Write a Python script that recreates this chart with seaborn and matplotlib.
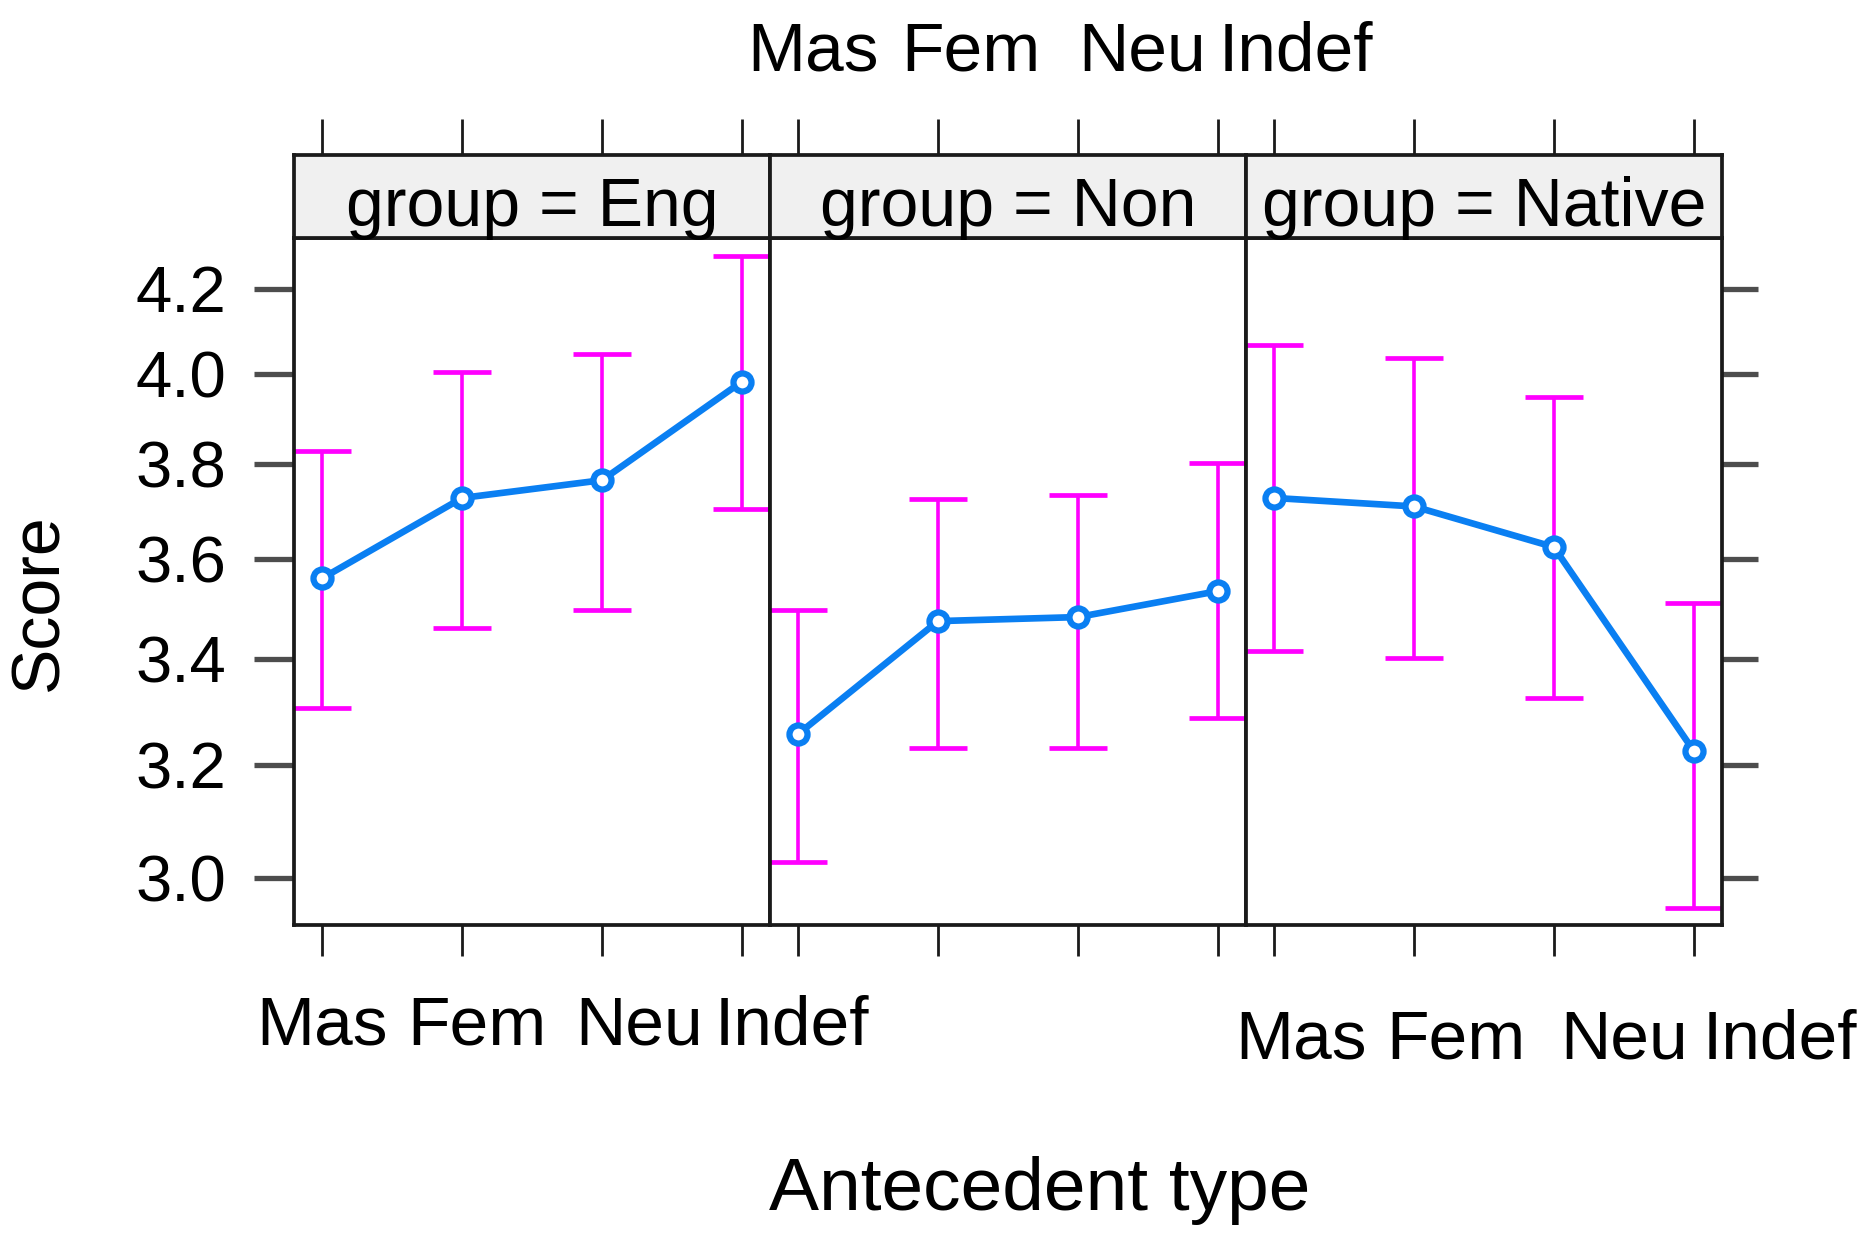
import numpy as np
import pandas as pd
import matplotlib
matplotlib.use('Agg')
import matplotlib.pyplot as plt
import matplotlib.transforms as mtransforms
from matplotlib.ticker import FixedLocator, FormatStrFormatter, NullLocator
import seaborn as sns

# data (log-scaled y axis)
groups = ['Eng', 'Non', 'Native']
antecedents = ['Mas', 'Fem', 'Neu', 'Indef']

eng_fit = [3.560, 3.727, 3.765, 3.983]
eng_lower = [3.306, 3.460, 3.496, 3.704]
eng_upper = [3.829, 4.005, 4.046, 4.278]

non_fit = [3.257, 3.474, 3.482, 3.534]
non_lower = [3.027, 3.231, 3.231, 3.288]
non_upper = [3.496, 3.724, 3.734, 3.801]

native_fit = [3.727, 3.709, 3.624, 3.226]
native_lower = [3.416, 3.402, 3.324, 2.949]
native_upper = [4.068, 4.038, 3.948, 3.510]

y_ticks = [3.0, 3.2, 3.4, 3.6, 3.8, 4.0, 4.2]

fits = {'Eng': eng_fit, 'Non': non_fit, 'Native': native_fit}
lowers = {'Eng': eng_lower, 'Non': non_lower, 'Native': native_lower}
uppers = {'Eng': eng_upper, 'Non': non_upper, 'Native': native_upper}

rows = []
for g in groups:
    for i, a in enumerate(antecedents):
        rows.append({'group': g, 'antecedent': a, 'pos': i,
                     'fit': fits[g][i], 'lower': lowers[g][i], 'upper': uppers[g][i]})
df = pd.DataFrame(rows)

sns.set_theme(style='white')
plt.rcParams['font.family'] = ['Liberation Sans', 'DejaVu Sans']
plt.rcParams['text.color'] = 'black'

LINE_BLUE = '#0a7ff2'
CI_PINK = '#ff00ff'
EDGE = '#1a1a1a'

fig = plt.figure(figsize=(18.67, 12.36), dpi=100)

left, right = 0.1576, 0.9222
pw = (right - left) / 3
pb, ph = 0.2517, 0.5554
sb, sh = pb + ph, 0.0675

panels = []
strips = []
for k, g in enumerate(groups):
    ax = fig.add_axes([left + k * pw, pb, pw, ph])
    sax = fig.add_axes([left + k * pw, sb, pw, sh])
    sub = df[df['group'] == g]

    ax.errorbar(sub['pos'], sub['fit'],
                yerr=[sub['fit'] - sub['lower'], sub['upper'] - sub['fit']],
                fmt='none', ecolor=CI_PINK, elinewidth=2.6, capsize=21, capthick=3.4, zorder=2)
    sns.lineplot(data=sub, x='pos', y='fit', ax=ax, color=LINE_BLUE, linewidth=4.8,
                 marker='o', markersize=13, markerfacecolor='white',
                 markeredgecolor=LINE_BLUE, markeredgewidth=4.5, zorder=3)

    ax.set_yscale('log')
    ax.set_ylim(2.921, 4.322)
    ax.set_xlim(-0.2, 3.2)
    ax.yaxis.set_major_locator(FixedLocator(y_ticks))
    ax.yaxis.set_minor_locator(NullLocator())
    ax.yaxis.set_major_formatter(FormatStrFormatter('%.1f'))
    ax.set_xticks(range(len(antecedents)))
    ax.set_xlabel('')
    ax.set_ylabel('')
    for sp in ax.spines.values():
        sp.set_color(EDGE)
        sp.set_linewidth(2.7)

    ax.tick_params(axis='x', bottom=True, top=False, direction='out', length=22,
                   width=2, color=EDGE, pad=28, labelsize=50, labelcolor='black')
    if k == 1:
        ax.set_xticklabels([])
    else:
        ax.set_xticklabels(antecedents)

    if k == 0:
        ax.tick_params(axis='y', left=True, right=False, labelleft=True, direction='out',
                       length=29, width=3.8, color='#4d4d4d', pad=20, labelsize=47,
                       labelcolor='black')
    elif k == 2:
        ax.tick_params(axis='y', left=False, right=True, labelleft=False, labelright=False,
                       direction='out', length=26, width=3.8, color='#4d4d4d')
    else:
        ax.tick_params(axis='y', left=False, right=False, labelleft=False)

    # strip on top of each panel
    sax.set_facecolor('#f0f0f0')
    sax.set_xlim(-0.2, 3.2)
    sax.set_ylim(0, 1)
    sax.set_yticks([])
    sax.set_xticks(range(len(antecedents)))
    sax.xaxis.tick_top()
    sax.tick_params(axis='x', top=True, bottom=False, direction='out', length=26,
                    width=2, color=EDGE, pad=25, labelsize=50, labelcolor='black')
    if k == 1:
        sax.set_xticklabels(antecedents)
    else:
        sax.set_xticklabels([])
    for sp in sax.spines.values():
        sp.set_color(EDGE)
        sp.set_linewidth(2.7)
    sax.text(0.5, 0.15, f'group = {g}', transform=sax.transAxes, ha='center',
             va='baseline', fontsize=49, color='black', clip_on=False, zorder=5)

    panels.append(ax)
    strips.append(sax)

fig.text(0.021, 0.513, 'Score', rotation=90, ha='center', va='center', fontsize=49)
fig.text(0.557, 0.0212, 'Antecedent type', ha='center', va='baseline', fontsize=54)


def nudge(labels, dx_px, dy_px=0):
    for lab, dx in zip(labels, dx_px):
        off = mtransforms.ScaledTranslation(dx / 100, -dy_px / 100, fig.dpi_scale_trans)
        lab.set_transform(lab.get_transform() + off)


# the tick labels in the original spread a bit wider than the ticks
nudge(panels[0].get_xticklabels(), [0, 15, 37, 50])
nudge(panels[2].get_xticklabels(), [27, 42, 70, 86], dy_px=14)
nudge(strips[1].get_xticklabels(), [15, 33, 64, 78])

fig.savefig('out.png', dpi=100)
